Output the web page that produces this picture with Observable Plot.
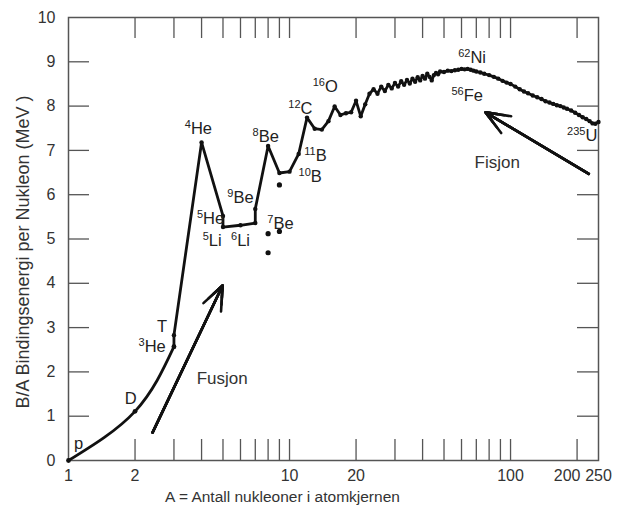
<!DOCTYPE html>
<html><head><meta charset="utf-8">
<script src="https://cdn.jsdelivr.net/npm/d3@7"></script>
<script src="https://cdn.jsdelivr.net/npm/@observablehq/plot@0.6"></script>
<style>body{margin:0;background:#fff}</style>
</head><body><div id="chart"></div>
<script>
// Light nuclei (smooth part of the curve): p, D, 3He
const lightA = [1, 2, 3];
const lightB = [0, 1.11, 2.57];

// Main binding-energy curve (A, B/A in MeV)
const mainA = [3, 3, 4, 5, 5, 6, 7, 7, 8, 9, 10, 11, 12, 13, 14, 15, 16, 17, 18, 19, 20, 21, 22, 23,
  24, 25, 26, 27, 28, 29, 30, 31, 32, 33, 34, 35, 36, 37, 38, 39, 40, 41, 42, 43, 44, 45, 46, 47, 48,
  50, 52, 54, 56, 58, 60, 62, 64, 66, 68, 70, 73, 76, 80, 84, 88, 92, 96, 100, 105, 110, 115, 120,
  126, 132, 138, 144, 150, 156, 162, 168, 174, 180, 188, 196, 204, 212, 220, 228, 235, 242, 250];
const mainB = [2.57, 2.83, 7.18, 5.52, 5.27, 5.31, 5.36, 5.68, 7.10, 6.49, 6.52, 6.92, 7.74, 7.49, 7.47, 7.66, 7.99, 7.80, 7.84, 7.86, 8.12, 7.77, 8.04, 8.28,
  8.38, 8.28, 8.44, 8.34, 8.48, 8.40, 8.52, 8.44, 8.56, 8.48, 8.59, 8.51, 8.62, 8.55, 8.65, 8.58, 8.68, 8.62, 8.73, 8.66, 8.58, 8.70, 8.75, 8.72, 8.78,
  8.77, 8.80, 8.79, 8.81, 8.82, 8.84, 8.83, 8.84, 8.82, 8.80, 8.78, 8.76, 8.73, 8.70, 8.66, 8.62, 8.57, 8.53, 8.50, 8.44, 8.38, 8.33, 8.29,
  8.24, 8.20, 8.16, 8.11, 8.08, 8.05, 8.02, 8.00, 7.97, 7.94, 7.90, 7.85, 7.80, 7.75, 7.71, 7.66, 7.61, 7.60, 7.64];

// Isolated excited / unbound states
const isoA = [8, 8, 9, 9];
const isoB = [5.12, 4.69, 5.17, 6.22];

// Nuclide labels
const labelText = ["p", "D", "T", "³He", "⁴He", "⁵He", "⁵Li", "⁶Li", "⁹Be", "⁷Be", "⁸Be", "¹¹B", "¹⁰B", "¹²C", "¹⁶O", "⁶²Ni", "⁵⁶Fe", "²³⁵U"];
const labelA = [1.11, 1.91, 2.65, 2.39, 3.87, 4.39, 4.47, 6.0, 6.0, 9.1, 7.8, 13.1, 12.4, 11.2, 14.5, 67, 63.7, 211];
const labelB = [0.38, 1.40, 3.01, 2.56, 7.49, 5.46, 4.97, 4.97, 5.94, 5.34, 7.30, 6.88, 6.40, 7.95, 8.43, 9.10, 8.24, 7.34];

// Process arrows and their captions
const arrowName = ["Fusjon", "Fisjon"];
const arrowFromA = [2.4, 226];
const arrowFromB = [0.63, 6.47];
const arrowToA = [4.98, 77];
const arrowToB = [3.95, 7.86];
const captionA = [4.96, 87];
const captionB = [1.84, 6.73];

// Axis ticks
const xTickLabels = [1, 2, 5, 10, 20, 50, 100, 250];
const xTickLabelsShifted = [200];
const xMinorTicks = [2, 3, 4, 5, 6, 7, 8, 9, 10, 20, 30, 40, 50, 60, 70, 80, 90, 100, 200];
const yTicks = [0, 1, 2, 3, 4, 5, 6, 7, 8, 9, 10];
const yInnerTicks = [1, 2, 3, 4, 5, 6, 7, 8, 9];

const xTitle = "A = Antall nukleoner i atomkjernen";
const yTitle = "B/A Bindingsenergi per Nukleon (MeV )";

const light = lightA.map((a, i) => ({A: a, B: lightB[i]}));
const main = mainA.map((a, i) => ({A: a, B: mainB[i]}));
const iso = isoA.map((a, i) => ({A: a, B: isoB[i]}));
const labels = labelText.map((t, i) => ({t, A: labelA[i], B: labelB[i]}));
const arrows = arrowName.map((n, i) => ({n, x1: arrowFromA[i], y1: arrowFromB[i], x2: arrowToA[i], y2: arrowToB[i], cx: captionA[i], cy: captionB[i]}));

const ink = "#111";
const axisInk = "#555";
const tickLen = 21;

const plot = Plot.plot({
  width: 632, height: 511,
  marginLeft: 68, marginRight: 34, marginTop: 17, marginBottom: 51,
  x: {type: "log", domain: [1, 250], axis: null},
  y: {domain: [0, 10], axis: null},
  style: {fontFamily: "'Liberation Sans', Arial, Helvetica, sans-serif", fontSize: "16px", color: "#222", background: "#fff"},
  marks: [
    Plot.ruleX(xMinorTicks, {x: d => d, y1: 0, y2: tickLen / 44.3, stroke: axisInk, strokeWidth: 1.3}),
    Plot.ruleX(xMinorTicks, {x: d => d, y1: 10, y2: 10 - tickLen / 44.3, stroke: axisInk, strokeWidth: 1.3}),
    Plot.ruleY(yInnerTicks, {y: d => d, x1: 1, x2: Math.pow(10, tickLen / 221), stroke: axisInk, strokeWidth: 1.3}),
    Plot.ruleY(yInnerTicks, {y: d => d, x1: 250, x2: 250 / Math.pow(10, tickLen / 221), stroke: axisInk, strokeWidth: 1.3}),
    Plot.frame({stroke: axisInk, strokeWidth: 1.5}),
    Plot.axisX(xTickLabels, {anchor: "bottom", tickSize: 0, tickPadding: 9, tickFormat: d => String(d), label: null, fontSize: 16, fill: "#333"}),
    Plot.axisX(xTickLabelsShifted, {anchor: "bottom", tickSize: 0, tickPadding: 9, dx: -10, tickFormat: d => String(d), label: null, fontSize: 16, fill: "#333"}),
    Plot.axisY(yTicks, {anchor: "left", tickSize: 0, tickPadding: 13, tickFormat: d => String(d), label: null, fontSize: 16, fill: "#333"}),
    Plot.text([xTitle], {frameAnchor: "bottom", dy: 41, dx: -51, fontSize: 15.5, fill: "#333"}),
    Plot.text([yTitle], {frameAnchor: "left", textAnchor: "middle", rotate: -90, dx: -45, dy: 13, fontSize: 18, fill: "#333"}),
    Plot.line(light, {x: "A", y: "B", curve: "natural", stroke: ink, strokeWidth: 2.8}),
    Plot.line(main, {x: "A", y: "B", stroke: ink, strokeWidth: 2.8, strokeLinejoin: "round"}),
    Plot.dot(light, {x: "A", y: "B", r: 2.4, fill: ink}),
    Plot.dot(main, {x: "A", y: "B", r: 2.2, fill: ink}),
    Plot.dot(iso, {x: "A", y: "B", r: 2.6, fill: ink}),
    ...[15, 11, 7, 3].map(h => Plot.arrow(arrows, {x1: "x1", y1: "y1", x2: "x2", y2: "y2", stroke: ink, strokeWidth: 2.6, headLength: h, headAngle: 44})),
    Plot.text(arrows, {x: "cx", y: "cy", text: "n", fontSize: 17, fill: "#333"}),
    Plot.text(labels, {x: "A", y: "B", text: "t", fontSize: 16.5, fill: "#222", className: "nuclide"})
  ]
});

// Render leading superscript digits as proper raised, smaller text
const supMap = {"⁰": "0", "¹": "1", "²": "2", "³": "3", "⁴": "4", "⁵": "5", "⁶": "6", "⁷": "7", "⁸": "8", "⁹": "9"};
plot.querySelectorAll("text").forEach(el => {
  const s = el.textContent;
  const m = s.match(/^[⁰¹²³⁴⁵⁶⁷⁸⁹]+/);
  if (!m) return;
  const sup = [...m[0]].map(c => supMap[c]).join("");
  const rest = s.slice(m[0].length);
  while (el.firstChild) el.removeChild(el.firstChild);
  const ns = "http://www.w3.org/2000/svg";
  const t1 = document.createElementNS(ns, "tspan");
  t1.setAttribute("font-size", "11");
  t1.setAttribute("dy", "-6");
  t1.textContent = sup;
  const t2 = document.createElementNS(ns, "tspan");
  t2.setAttribute("dy", "6");
  t2.textContent = rest;
  el.appendChild(t1);
  el.appendChild(t2);
});
document.getElementById("chart").appendChild(plot);
</script>
</body></html>
